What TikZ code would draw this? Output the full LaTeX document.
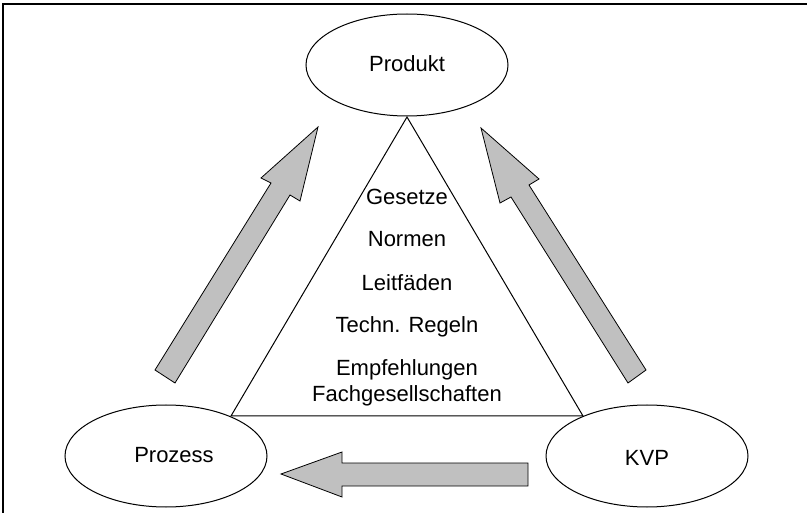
\documentclass[tikz,border=0pt]{standalone}
\usepackage{fontspec}
\setmainfont{Liberation Sans}
\usetikzlibrary{shapes.geometric}
\definecolor{arrowgray}{HTML}{C0C0C0}
\tikzset{
  ell/.style={draw=black, line width=1pt, ellipse, minimum width=202pt, minimum height=102pt, inner sep=0pt},
  lbl/.style={anchor=base, font=\fontsize{22}{24}\selectfont, inner sep=0pt},
  blockarrow/.style={draw=black, line width=0.8pt, fill=arrowgray, line join=miter},
  tri/.style={draw=black, line width=1pt, line join=miter}
}
\begin{document}
\begin{tikzpicture}[x=1pt, y=-1pt]
\useasboundingbox (0,0) rectangle (807,513);
% frame (top and left)
\draw[line width=2pt] (3,513) -- (3,4) -- (807,4);
% ellipses
\node[ell] (produkt) at (407,65) {};
\node[ell] (prozess) at (166,456) {};
\node[ell] (kvp) at (647,456) {};
\node[lbl] (tprodukt) at (407,72) {Produkt};
\node[lbl] (tprozess) at (174,463) {Prozess};
\node[lbl] (tkvp) at (647,465) {KVP};
% triangle
\coordinate (apex) at (407,117);
\coordinate (bl) at (231,416);
\coordinate (br) at (583,416);
\draw[tri] (apex) -- (bl) -- (br) -- cycle;
% texts
\node[lbl] (t1) at (407,205) {Gesetze};
\node[lbl] (t2) at (407,247) {Normen};
\node[lbl] (t3) at (407,291) {Leitfäden};
\node[lbl] (t4) at (407,333) {Techn. Regeln};
\node[lbl] (t5) at (407,376) {Empfehlungen};
\node[lbl] (t6) at (407,402) {Fachgesellschaften};
% block arrows
\draw[blockarrow] (155,370) -- (271,183) -- (261,178) -- (318,127) -- (300,201) -- (290,195) -- (175,383) -- cycle;
\draw[blockarrow] (646,370) -- (529,185) -- (539,179) -- (481,128) -- (500,203) -- (511,197) -- (628,383) -- cycle;
\draw[blockarrow] (528,463) -- (342,463) -- (342,452) -- (281,474) -- (342,497) -- (342,486) -- (528,486) -- cycle;
\end{tikzpicture}
\end{document}
